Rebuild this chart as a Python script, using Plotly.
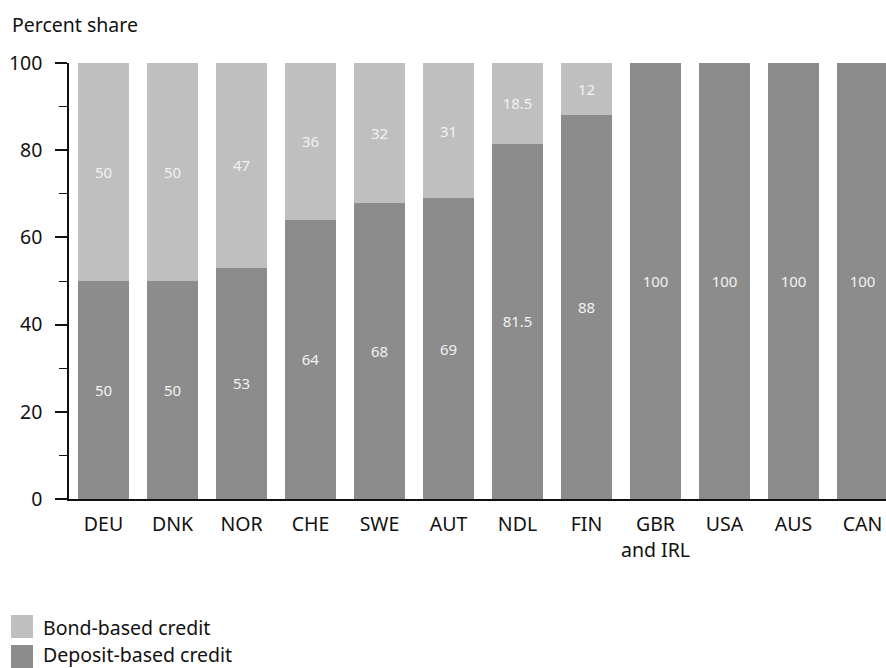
import plotly.graph_objects as go

# Share of credit by funding source, percent
countries = ["DEU", "DNK", "NOR", "CHE", "SWE", "AUT", "NDL", "FIN",
             "GBR<br>and IRL", "USA", "AUS", "CAN"]
deposit_based = [50, 50, 53, 64, 68, 69, 81.5, 88, 100, 100, 100, 100]
bond_based = [50, 50, 47, 36, 32, 31, 18.5, 12, 0, 0, 0, 0]

series_names = ["Bond-based credit", "Deposit-based credit"]
BOND_COLOR = "#bfbfbf"
DEPOSIT_COLOR = "#8c8c8c"
FONT = "Noto Sans"
TEXT_SIZE = 19.5
LABEL_SIZE = 15

W, H = 886, 668
L, R, T, B = 69, 0, 63, 169
plot_w = W - L - R
plot_h = H - T - B


def fmt(v):
    return "" if v == 0 else (f"{v:g}")


fig = go.Figure()
fig.add_trace(go.Bar(
    x=countries, y=deposit_based, name=series_names[1],
    marker=dict(color=DEPOSIT_COLOR, line=dict(width=0)),
    text=[fmt(v) for v in deposit_based], textposition="inside",
    insidetextanchor="middle", textangle=0,
    textfont=dict(color="#f2f2f2", size=LABEL_SIZE, family=FONT),
    showlegend=False,
))
fig.add_trace(go.Bar(
    x=countries, y=bond_based, name=series_names[0],
    marker=dict(color=BOND_COLOR, line=dict(width=0)),
    text=[fmt(v) for v in bond_based], textposition="inside",
    insidetextanchor="middle", textangle=0,
    textfont=dict(color="#f2f2f2", size=LABEL_SIZE, family=FONT),
    showlegend=False,
))


def px_to_paper_x(px):
    return (px - L) / plot_w


def px_to_paper_y(py):
    return (H - B - py) / plot_h


shapes = []
annotations = [dict(
    text="Percent share", xref="paper", yref="paper",
    x=px_to_paper_x(10), y=px_to_paper_y(25), xanchor="left", yanchor="middle",
    showarrow=False, font=dict(size=TEXT_SIZE, family=FONT, color="#111111"),
)]

# Legend drawn as swatches plus labels below the plot
legend_rows = [(series_names[0], BOND_COLOR, 615, 627.5),
               (series_names[1], DEPOSIT_COLOR, 645, 654)]
for name, color, top, text_y in legend_rows:
    shapes.append(dict(
        type="rect", xref="paper", yref="paper",
        x0=px_to_paper_x(11), x1=px_to_paper_x(33),
        y0=px_to_paper_y(top), y1=px_to_paper_y(top + 23),
        fillcolor=color, line=dict(width=0),
    ))
    annotations.append(dict(
        text=name, xref="paper", yref="paper",
        x=px_to_paper_x(41), y=px_to_paper_y(text_y),
        xanchor="left", yanchor="middle", showarrow=False,
        font=dict(size=TEXT_SIZE, family=FONT, color="#111111"),
    ))

slot = 69.0
x_end = -0.5 + plot_w / slot

fig.update_layout(
    width=W, height=H,
    margin=dict(l=L, r=R, t=T, b=B, pad=0),
    barmode="stack", bargap=0.275,
    plot_bgcolor="white", paper_bgcolor="white",
    font=dict(family=FONT, size=TEXT_SIZE, color="#111111"),
    shapes=shapes, annotations=annotations,
    xaxis=dict(
        range=[-0.5, x_end], showline=True, linecolor="#111111", linewidth=1.5,
        ticks="outside", ticklen=7, tickcolor="rgba(0,0,0,0)",
        showgrid=False, zeroline=False, tickfont=dict(size=TEXT_SIZE, family=FONT),
        fixedrange=True,
    ),
    yaxis=dict(
        range=[0, 100], tickvals=[0, 20, 40, 60, 80, 100],
        showline=True, linecolor="#111111", linewidth=1.5,
        ticks="outside", ticklen=12, tickwidth=1.5, tickcolor="#111111",
        minor=dict(tickvals=[10, 30, 50, 70, 90], ticks="outside", ticklen=8,
                   tickwidth=1.2, tickcolor="#111111"),
        showgrid=False, zeroline=False, tickfont=dict(size=TEXT_SIZE, family=FONT),
        ticklabelstandoff=9, fixedrange=True,
    ),
)

fig.write_html("out.html")
